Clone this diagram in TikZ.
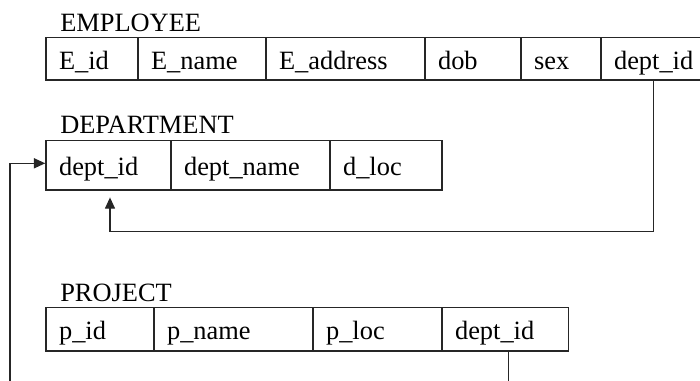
\documentclass[tikz,border=0pt]{standalone}
\usepackage{fontspec}
\setmainfont{Liberation Serif}
\usetikzlibrary{arrows.meta,fit,calc}
\tikzset{
  cellbox/.style={draw=black!85, line width=1.05pt, inner sep=0pt},
  celltext/.style={inner sep=0pt, font=\fontsize{19.8}{23}\selectfont, text=black},
  tabtitle/.style={inner sep=0pt, font=\fontsize{19.8}{23}\selectfont, text=black, anchor=base west},
  fk/.style={draw=black!85, line width=1.05pt},
  fkarrow/.style={fk, -{Triangle[length=8.5pt,width=7.5pt]}},
}
\newcommand\dbcell[6]{%
  \node[cellbox, fit={(#2,#4) (#3,#5)}] (#1) {};
  \node[celltext, anchor=base west] (#1t) at ($(#1.west)+(13.5,10.5)$) {#6};
}
\begin{document}
\begin{tikzpicture}[x=0.75pt,y=-0.75pt]
\useasboundingbox (0,0) rectangle (700,380);
\clip (0,0) rectangle (700,380);
% EMPLOYEE
\node[tabtitle] (temp) at (60,31.7) {EMPLOYEE};
\dbcell{e1}{46}{138}{37.3}{80}{E\_id}
\dbcell{e2}{138}{266}{37.3}{80}{E\_name}
\dbcell{e3}{266}{425}{37.3}{80}{E\_address}
\dbcell{e4}{425}{521}{37.3}{80}{dob}
\dbcell{e5}{521}{601}{37.3}{80}{sex}
\dbcell{e6}{601}{706}{37.3}{80}{dept\_id}
% DEPARTMENT
\node[tabtitle] (tdep) at (60,133.3) {DEPARTMENT};
\dbcell{d1}{46}{171}{140.5}{190}{dept\_id}
\dbcell{d2}{171}{330}{140.5}{190}{dept\_name}
\dbcell{d3}{330}{442}{140.5}{190}{d\_loc}
% PROJECT
\node[tabtitle] (tproj) at (60,301.7) {PROJECT};
\dbcell{p1}{46}{154}{307.5}{351}{p\_id}
\dbcell{p2}{154}{313}{307.5}{351}{p\_name}
\dbcell{p3}{313}{442}{307.5}{351}{p\_loc}
\dbcell{p4}{442}{568.5}{307.5}{351}{dept\_id}
% connectors
\coordinate (k1) at (653.3,231.7);
\coordinate (k2) at (110,231.7);
\draw[fkarrow, shorten >=5pt] (k1 |- e6.south) -- (k1) -- (k2) -- (k2 |- d1.south);
\coordinate (k3) at (10,163.3);
\coordinate (kb) at (10,390);
\draw[fkarrow] (kb) -- (k3) -- (k3 -| d1.west);
\coordinate (k4) at (508.3,390);
\draw[fk] (k4 |- p4.south) -- (k4);
\end{tikzpicture}
\end{document}
